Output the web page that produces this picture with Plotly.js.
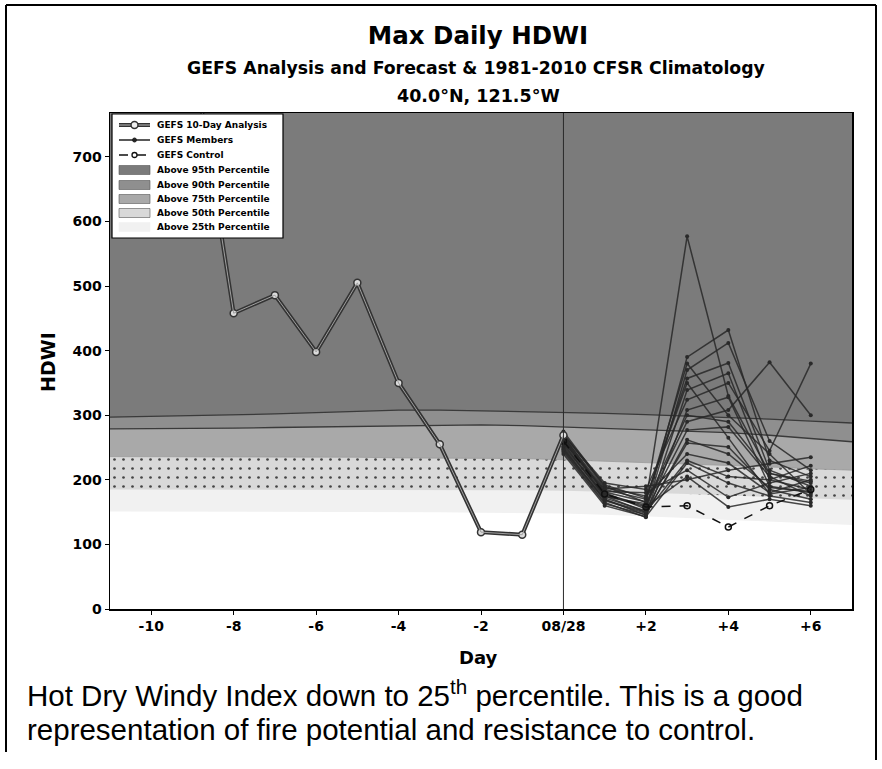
<!DOCTYPE html>
<html>
<head>
<meta charset="utf-8">
<script src="https://cdn.plot.ly/plotly-3.0.1.min.js"></script>
<style>html,body{margin:0;padding:0;background:#fff;}#chart{width:882px;height:769px;}</style>
</head>
<body>
<div id="chart"></div>
<script>
// ---- Data ----
const climDays = [-11,-10,-9,-8,-7,-6,-5,-4,-3,-2,-1,0,1,2,3,4,5,6,7];
const p95 = [297,298,299,300,302,304,306,308,308,307,306,305,303,301,299,297,294,291,288];
const p90 = [279,279,280,280,281,282,283,284,285,285,284,282,280,278,276,273,269,264,259];
const p75 = [236,236,236,235,235,235,235,234,234,234,233,231,229,227,225,222,220,217,215];
const p50 = [185,185,185,185,184,184,184,184,184,184,184,183,182,180,178,176,174,172,169];
const p25 = [151,151,151,150,150,150,150,150,150,149,149,148,146,144,141,138,135,132,130];

const analysisDays = [-10,-9,-8,-7,-6,-5,-4,-3,-2,-1,0];
const analysisVals = [830,865,458,486,398,505,350,255,119,115,269];

const fcstDays = [0,1,2,3,4,5,6];
const members = [
  [275,190,165,577,330,210,195],
  [268,180,155,390,432,230,205],
  [262,175,150,370,412,260,215],
  [258,185,170,357,381,215,190],
  [250,170,145,339,365,200,185],
  [270,195,185,324,350,245,380],
  [245,165,142,308,328,190,180],
  [265,178,160,290,308,382,300],
  [255,172,152,277,282,205,175],
  [248,168,148,257,251,185,170],
  [272,188,175,240,226,180,200],
  [240,160,143,226,195,175,165],
  [260,182,180,215,173,195,210],
  [252,176,158,205,158,170,160],
  [266,186,190,200,215,225,235],
  [243,163,146,262,240,188,182],
  [257,174,163,300,290,210,198],
  [269,192,172,350,265,178,188],
  [247,169,150,230,205,200,222],
  [263,181,166,380,300,240,178]
];
const control = [260,178,158,160,127,160,185];

const tickVals = [-10,-8,-6,-4,-2,0,2,4,6];
const tickText = ['-10','-8','-6','-4','-2','08/28','+2','+4','+6'];
const yTicks = [0,100,200,300,400,500,600,700];
const legendLabels = ['GEFS 10-Day Analysis','GEFS Members','GEFS Control','Above 95th Percentile',
  'Above 90th Percentile','Above 75th Percentile','Above 50th Percentile','Above 25th Percentile'];

// ---- Geometry helpers (plot area in px) ----
const W = 882, H = 769, L = 110, R = 30, T = 113, B = 160;
const pw = W - L - R, ph = H - T - B;
const px = x => (x - L) / pw;
const py = y => (H - B - y) / ph;

const c95 = '#7b7b7b', c90 = '#8f8f8f', c75 = '#a9a9a9', c50 = '#d9d9d9', c25 = '#f1f1f1';
const boldFont = (s) => ({family: 'DejaVu Sans', size: s, color: '#000', weight: 'bold'});

const traces = [];
traces.push({x: climDays, y: p95, mode: 'lines', fill: 'tozeroy', fillcolor: c90,
  line: {color: '#3a3a3a', width: 1.3}, name: 'Above 90th Percentile', hoverinfo: 'skip'});
traces.push({x: climDays, y: p90, mode: 'lines', fill: 'tozeroy', fillcolor: c75,
  line: {color: '#3a3a3a', width: 1.3}, name: 'Above 75th Percentile', hoverinfo: 'skip'});
traces.push({x: climDays, y: p75, mode: 'lines', fill: 'tozeroy', fillcolor: c50,
  fillpattern: {shape: '.', fgcolor: '#444', bgcolor: c50, size: 9, solidity: 0.07},
  line: {color: '#9a9a9a', width: 0.8}, name: 'Above 50th Percentile', hoverinfo: 'skip'});
traces.push({x: climDays, y: p50, mode: 'lines', fill: 'tozeroy', fillcolor: c25,
  line: {color: c25, width: 0}, name: 'Above 25th Percentile', hoverinfo: 'skip'});
traces.push({x: climDays, y: p25, mode: 'lines', fill: 'tozeroy', fillcolor: '#ffffff',
  line: {color: '#ffffff', width: 0}, name: 'Below 25th', hoverinfo: 'skip'});

members.forEach((m, i) => {
  traces.push({x: fcstDays, y: m, mode: 'lines+markers',
    line: {color: 'rgba(40,40,40,0.85)', width: 1.5},
    marker: {size: 4, color: '#2a2a2a'}, name: 'GEFS Members'});
});
traces.push({x: fcstDays, y: control, mode: 'lines+markers',
  line: {color: '#111', width: 1.5, dash: 'dash'},
  marker: {size: 6, symbol: 'circle-open', color: '#111', line: {width: 1.5}},
  name: 'GEFS Control'});
traces.push({x: analysisDays, y: analysisVals, mode: 'lines+markers',
  line: {color: '#333', width: 4},
  marker: {size: 7, color: '#dcdcdc', line: {color: '#333', width: 1.5}},
  name: 'GEFS 10-Day Analysis'});
traces.push({x: analysisDays, y: analysisVals, mode: 'lines',
  line: {color: '#a0a0a0', width: 1}, name: 'analysis core', hoverinfo: 'skip'});

const annotations = [
  {text: 'GEFS Analysis and Forecast &amp; 1981-2010 CFSR Climatology', x: px(476), y: py(68),
   xref: 'paper', yref: 'paper', showarrow: false, xanchor: 'center', yanchor: 'middle', font: boldFont(17.3)},
  {text: '40.0°N, 121.5°W', x: px(478), y: py(96), xref: 'paper', yref: 'paper', showarrow: false,
   xanchor: 'center', yanchor: 'middle', font: boldFont(17.5)},
  {text: 'Day', x: px(478), y: py(657), xref: 'paper', yref: 'paper', showarrow: false,
   xanchor: 'center', yanchor: 'middle', font: boldFont(18)},
  {text: 'HDWI', x: px(48), y: py(362), xref: 'paper', yref: 'paper', showarrow: false, textangle: -90,
   xanchor: 'center', yanchor: 'middle', font: boldFont(19)},
  {text: 'Hot Dry Windy Index down to 25<sup>th</sup> percentile. This is a good', x: px(25), y: py(693),
   xref: 'paper', yref: 'paper', showarrow: false, xanchor: 'left', yanchor: 'middle', align: 'left',
   font: {family: 'Liberation Sans', size: 29.5, color: '#000'}},
  {text: 'representation of fire potential and resistance to control.', x: px(25), y: py(729),
   xref: 'paper', yref: 'paper', showarrow: false, xanchor: 'left', yanchor: 'middle', align: 'left',
   font: {family: 'Liberation Sans', size: 29.5, color: '#000'}}
];

const shapes = [
  {type: 'line', xref: 'x', yref: 'paper', x0: 0, x1: 0, y0: 0, y1: 1, line: {color: '#2a2a2a', width: 1}},
  {type: 'line', xref: 'paper', yref: 'paper', x0: px(6), x1: px(6), y0: py(5), y1: py(752), line: {color: '#000', width: 2}},
  {type: 'line', xref: 'paper', yref: 'paper', x0: px(6), x1: px(876), y0: py(5), y1: py(5), line: {color: '#000', width: 2}},
  {type: 'line', xref: 'paper', yref: 'paper', x0: px(876), x1: px(876), y0: py(5), y1: py(760), line: {color: '#000', width: 2}}
];

// ---- Legend (drawn as a key box in the upper-left of the plot) ----
const legRows = [125,140,155,170,185,199,213,227];
const sx0 = 119, sx1 = 150, tx = 155;
shapes.push({type: 'rect', xref: 'paper', yref: 'paper', x0: px(112), x1: px(283), y0: py(114), y1: py(238),
  fillcolor: '#ffffff', line: {color: '#000', width: 1.2}});
shapes.push({type: 'line', xref: 'paper', yref: 'paper', x0: px(sx0), x1: px(sx1), y0: py(legRows[0]), y1: py(legRows[0]), line: {color: '#333', width: 4}});
shapes.push({type: 'line', xref: 'paper', yref: 'paper', x0: px(sx0), x1: px(sx1), y0: py(legRows[0]), y1: py(legRows[0]), line: {color: '#bbb', width: 1}});
shapes.push({type: 'circle', xref: 'paper', yref: 'paper', x0: px(131), x1: px(138), y0: py(legRows[0] - 3.5), y1: py(legRows[0] + 3.5), fillcolor: '#eee', line: {color: '#333', width: 1.5}});
shapes.push({type: 'line', xref: 'paper', yref: 'paper', x0: px(sx0), x1: px(sx1), y0: py(legRows[1]), y1: py(legRows[1]), line: {color: '#222', width: 1.5}});
shapes.push({type: 'circle', xref: 'paper', yref: 'paper', x0: px(132.5), x1: px(136.5), y0: py(legRows[1] - 2), y1: py(legRows[1] + 2), fillcolor: '#222', line: {color: '#222', width: 1}});
shapes.push({type: 'line', xref: 'paper', yref: 'paper', x0: px(sx0), x1: px(sx1), y0: py(legRows[2]), y1: py(legRows[2]), line: {color: '#111', width: 1.5, dash: 'dash'}});
shapes.push({type: 'circle', xref: 'paper', yref: 'paper', x0: px(132), x1: px(137), y0: py(legRows[2] - 2.5), y1: py(legRows[2] + 2.5), fillcolor: '#fff', line: {color: '#111', width: 1.3}});
const swatch = [c95, c90, c75, c50, c25];
swatch.forEach((c, i) => {
  const r = legRows[3 + i];
  shapes.push({type: 'rect', xref: 'paper', yref: 'paper', x0: px(sx0), x1: px(sx1), y0: py(r - 4.5), y1: py(r + 4.5),
    fillcolor: c, line: {color: i < 4 ? '#555' : c25, width: 0.6}});
});
legendLabels.forEach((t, i) => {
  annotations.push({text: t, x: px(tx), y: py(legRows[i]), xref: 'paper', yref: 'paper', showarrow: false,
    xanchor: 'left', yanchor: 'middle', font: {family: 'DejaVu Sans', size: 9, color: '#000', weight: 'bold'}});
});

const layout = {
  width: W, height: H,
  margin: {l: L, r: R, t: T, b: B, pad: 0},
  paper_bgcolor: '#ffffff', plot_bgcolor: c95,
  title: {text: 'Max Daily HDWI', x: 478 / W, xanchor: 'center', xref: 'container',
    y: 1 - 35 / H, yanchor: 'middle', yref: 'container', font: boldFont(24.5)},
  xaxis: {range: [-11, 7], tickvals: tickVals, ticktext: tickText, showgrid: false, zeroline: false,
    showline: true, mirror: true, linecolor: '#000', linewidth: 1.5, ticks: 'outside', ticklen: 4,
    tickcolor: '#000', tickfont: boldFont(14)},
  yaxis: {range: [0, 768], tickvals: yTicks, showgrid: false, zeroline: false,
    showline: true, mirror: true, linecolor: '#000', linewidth: 1.5, ticks: 'outside', ticklen: 4,
    tickcolor: '#000', tickfont: boldFont(14)},
  showlegend: false,
  annotations: annotations,
  shapes: shapes
};

Plotly.newPlot('chart', traces, layout, {displayModeBar: false, staticPlot: true});
</script>
</body>
</html>
